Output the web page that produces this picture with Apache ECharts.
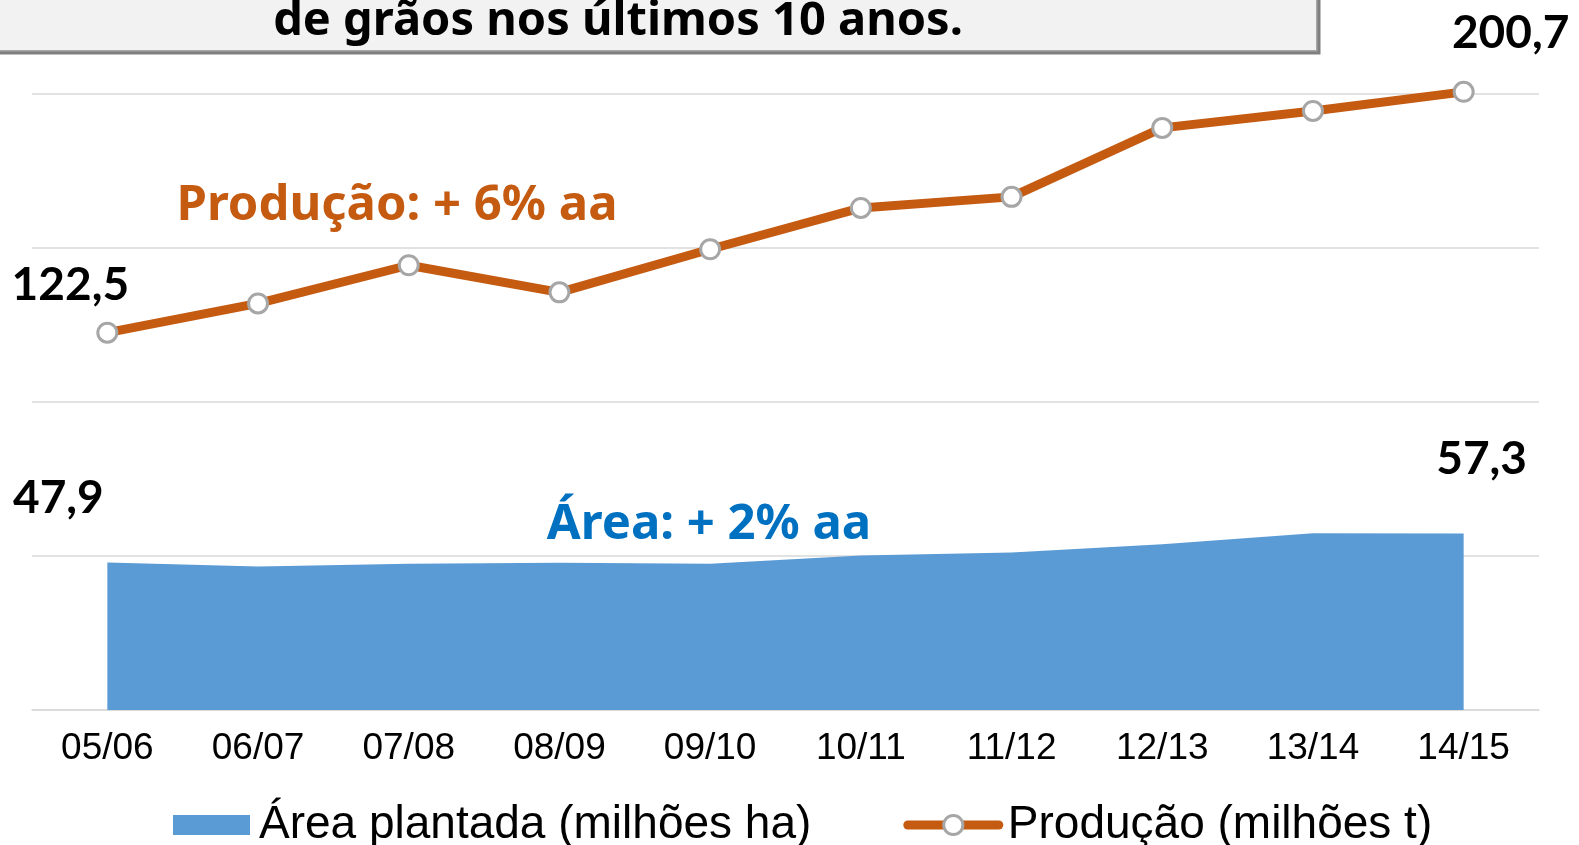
<!DOCTYPE html>
<html><head><meta charset="utf-8">
<script src="https://cdn.jsdelivr.net/npm/echarts@6/dist/echarts.min.js"></script>
<style>html,body{margin:0;padding:0;background:#fff}#c{width:1579px;height:845px}</style>
</head><body><div id="c"></div>
<script>
const categories = ['05/06','06/07','07/08','08/09','09/10','10/11','11/12','12/13','13/14','14/15'];
const areaValues = [47.9, 46.6, 47.5, 47.8, 47.5, 50.2, 51.1, 53.8, 57.4, 57.3];
const productionValues = [122.5, 132.0, 144.4, 135.6, 149.6, 163.0, 166.6, 189.0, 194.5, 200.7];
const yMin = 0, yMax = 200, yStep = 50;
const titleText = 'de grãos nos últimos 10 anos.';
const prodNote = 'Produção: + 6% aa';
const areaNote = 'Área: + 2% aa';
const areaName = 'Área plantada (milhões ha)';
const prodName = 'Produção (milhões t)';

const fmt = v => String(v).replace('.', ',');
const labelFont = {fontFamily: 'Lato', fontWeight: 'bold', fontSize: 46, color: '#000'};
function withEndLabels(vals, firstOff, lastOff) {
  return vals.map((v, i) => {
    if (i === 0 || i === vals.length - 1) {
      return {value: v, label: Object.assign({show: true, position: 'inside', offset: i === 0 ? firstOff : lastOff, formatter: p => fmt(p.value)}, labelFont)};
    }
    return v;
  });
}

const chart = echarts.init(document.getElementById('c'));
chart.setOption({
  animation: false,
  backgroundColor: '#fff',
  grid: {left: 32, right: 40, top: 94, bottom: 135, containLabel: false},
  xAxis: {
    type: 'category', data: categories, boundaryGap: true,
    axisLine: {show: true, lineStyle: {color: '#d9d9d9', width: 1.5}},
    axisTick: {show: false},
    axisLabel: {fontFamily: 'Liberation Sans', fontSize: 37, color: '#000', margin: 20}
  },
  yAxis: {
    type: 'value', min: yMin, max: yMax, interval: yStep,
    axisLine: {show: false}, axisTick: {show: false}, axisLabel: {show: false},
    splitLine: {lineStyle: {color: '#d9d9d9', width: 1.5}}
  },
  legend: {
    left: 159, top: 802, padding: 0, itemGap: 92, itemWidth: 91, itemHeight: 24,
    textStyle: {fontFamily: 'Liberation Sans', fontSize: 46, color: '#000', padding: [0, 0, 0, 4]},
    data: [
      {name: areaName, icon: 'path://M0,0L0,0M0,24L0,24M14,2H91V22H14Z', itemStyle: {color: '#5b9bd5', borderWidth: 0}},
      {name: prodName, lineStyle: {width: 9, color: '#c55a11', cap: 'round'}, itemStyle: {color: '#ffffff', borderColor: '#a6a6a6', borderWidth: 3}}
    ]
  },
  series: [
    {
      name: areaName, type: 'line', data: withEndLabels(areaValues, [-49, -64], [18, -74]),
      symbol: 'circle', symbolSize: 0, showAllSymbol: true,
      itemStyle: {color: '#5b9bd5'},
      lineStyle: {width: 0, color: '#5b9bd5'},
      areaStyle: {color: '#5b9bd5', opacity: 1},
      z: 2
    },
    {
      name: prodName, type: 'line', data: withEndLabels(productionValues, [-37, -48], [47, -59]),
      symbol: 'circle', symbolSize: 19, showAllSymbol: true, clip: false,
      lineStyle: {color: '#c55a11', width: 9},
      itemStyle: {color: '#ffffff', borderColor: '#a6a6a6', borderWidth: 3},
      z: 3
    }
  ],
  graphic: [
    {type: 'rect', left: -6, top: -20, shape: {width: 1322, height: 70},
      style: {fill: '#f2f2f2', stroke: '#a6a6a6', lineWidth: 1.5, shadowColor: '#7f7f7f', shadowOffsetX: 3, shadowOffsetY: 3, shadowBlur: 0}, z: 10},
    {type: 'text', x: 618, y: 22, z: 11,
      style: {text: titleText, fontFamily: 'Noto Sans', fontWeight: 'bold', fontSize: 47, fill: '#000', align: 'center', verticalAlign: 'middle'}},
    {type: 'text', x: 397, y: 206, z: 11,
      style: {text: prodNote, fontFamily: 'Noto Sans', fontWeight: 'bold', fontSize: 49, fill: '#c55a11', align: 'center', verticalAlign: 'middle'}},
    {type: 'text', x: 709, y: 525, z: 11,
      style: {text: areaNote, fontFamily: 'Noto Sans', fontWeight: 'bold', fontSize: 49, fill: '#0070c0', align: 'center', verticalAlign: 'middle'}}
  ]
});
</script></body></html>
